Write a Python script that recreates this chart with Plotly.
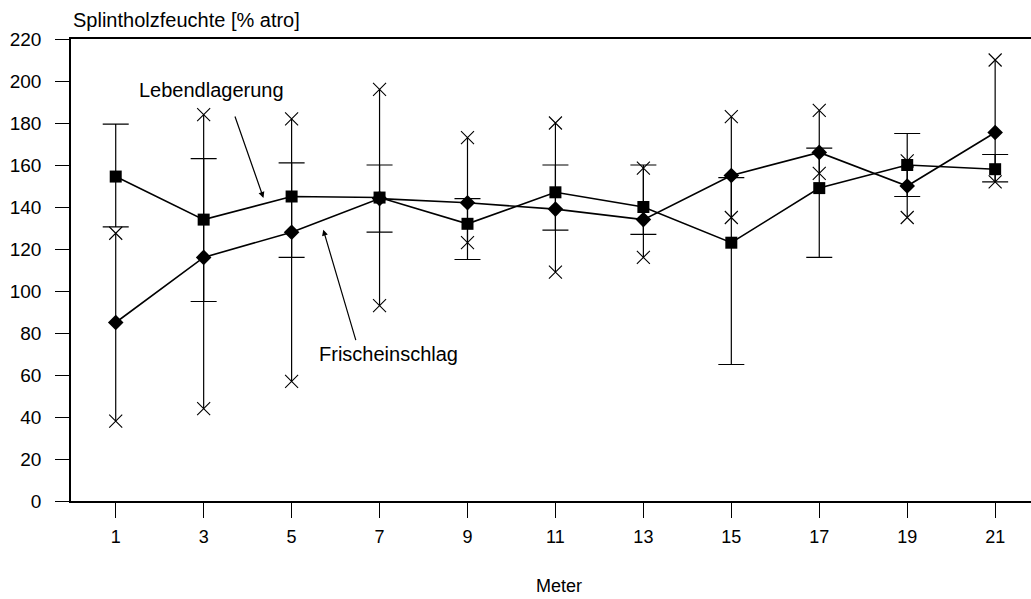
import plotly.graph_objects as go

meter = [1, 3, 5, 7, 9, 11, 13, 15, 17, 19, 21]

leb_mean = [154.5, 134, 145, 144.5, 132, 147, 140, 123, 149, 160, 158]
leb_upper = [179.5, 163, 161, 160, 144, 160, 160, 154, 168, 175, 165]
leb_lower = [130.5, 95, 116, 128, 115, 129, 127, 65, 116, 145, 152]

fri_mean = [85, 116, 128, 144, 142, 139, 134, 155, 166, 150, 175.5]
fri_upper = [127.5, 184, 182, 196, 173, 180, 158.5, 183, 186, 162, 210]
fri_lower = [38, 44, 57, 93, 123, 109, 116, 135, 156, 135, 152]

y_ticks = list(range(0, 221, 20))

FONT = "Liberation Sans, Arial, sans-serif"

fig = go.Figure()

# Lebendlagerung error bars (caps)
fig.add_trace(go.Scatter(
    x=meter, y=leb_mean, mode="markers",
    marker=dict(size=1, color="rgba(0,0,0,0)"),
    error_y=dict(type="data", symmetric=False,
                 array=[u - m for u, m in zip(leb_upper, leb_mean)],
                 arrayminus=[m - l for m, l in zip(leb_mean, leb_lower)],
                 color="black", thickness=1.2, width=13),
    showlegend=False, hoverinfo="skip"))

# Frischeinschlag error bars (no caps) + X markers at ends
fig.add_trace(go.Scatter(
    x=meter, y=fri_mean, mode="markers",
    marker=dict(size=1, color="rgba(0,0,0,0)"),
    error_y=dict(type="data", symmetric=False,
                 array=[u - m for u, m in zip(fri_upper, fri_mean)],
                 arrayminus=[m - l for m, l in zip(fri_mean, fri_lower)],
                 color="black", thickness=1.2, width=0),
    showlegend=False, hoverinfo="skip"))

fig.add_trace(go.Scatter(
    x=meter + meter, y=fri_upper + fri_lower, mode="markers",
    marker=dict(symbol="x-thin-open", size=13, color="black",
                line=dict(width=1.1, color="black")),
    showlegend=False))

# Lines with markers
fig.add_trace(go.Scatter(
    x=meter, y=leb_mean, mode="lines+markers", name="Lebendlagerung",
    line=dict(color="black", width=1.6),
    marker=dict(symbol="square", size=12, color="black"),
    showlegend=False))

fig.add_trace(go.Scatter(
    x=meter, y=fri_mean, mode="lines+markers", name="Frischeinschlag",
    line=dict(color="black", width=1.6),
    marker=dict(symbol="diamond", size=12, color="black"),
    showlegend=False))

annotations = [
    dict(text="Splintholzfeuchte [% atro]", xref="paper", yref="paper",
         x=0, y=1.041, xanchor="left", yanchor="middle", xshift=0,
         showarrow=False, font=dict(size=20, color="black", family=FONT)),
    dict(text="Meter", xref="x", yref="paper",
         x=11.08, y=-0.184, xanchor="center", yanchor="middle",
         showarrow=False, font=dict(size=18, color="black", family=FONT)),
    dict(text="Lebendlagerung", xref="x", yref="y", x=3.18, y=195.9,
         xanchor="center", yanchor="middle", showarrow=False,
         font=dict(size=20, color="black", family=FONT)),
    dict(text="Frischeinschlag", xref="x", yref="y", x=7.21, y=70.2,
         xanchor="center", yanchor="middle", showarrow=False,
         font=dict(size=20, color="black", family=FONT)),
    dict(text="", xref="x", yref="y", x=4.36, y=144.3,
         ax=-29, ay=-83, showarrow=True, arrowhead=2, arrowsize=1,
         arrowwidth=1.2, arrowcolor="black", standoff=0),
    dict(text="", xref="x", yref="y", x=5.72, y=129.2,
         ax=33, ay=112, showarrow=True, arrowhead=2, arrowsize=1,
         arrowwidth=1.2, arrowcolor="black", standoff=0),
]

fig.update_layout(
    width=1040, height=599,
    margin=dict(l=71, r=0, t=39, b=98),
    paper_bgcolor="white", plot_bgcolor="white",
    font=dict(family=FONT, color="black", size=18),
    annotations=annotations,
    xaxis=dict(range=[-0.017, 22.02], tickvals=meter,
               ticktext=[str(m) for m in meter],
               showgrid=False, zeroline=False,
               showline=True, linecolor="black", linewidth=1.5, mirror=True,
               ticks="outside", ticklen=15, tickcolor="black", tickwidth=1,
               ticklabelstandoff=4,
               tickfont=dict(size=18, family=FONT, color="black")),
    yaxis=dict(range=[0, 220], tickvals=y_ticks,
               showgrid=False, zeroline=False,
               showline=True, linecolor="black", linewidth=1.5,
               ticks="outside", ticklen=14, tickcolor="black", tickwidth=1,
               ticklabelstandoff=10,
               tickfont=dict(size=19, family=FONT, color="black")),
)

fig.write_html(
    "out.html",
    config={"displayModeBar": False},
    post_script=(
        "document.body.style.margin='0';"
        "document.body.style.overflow='hidden';"
        "document.documentElement.style.overflow='hidden';"
    ),
)
